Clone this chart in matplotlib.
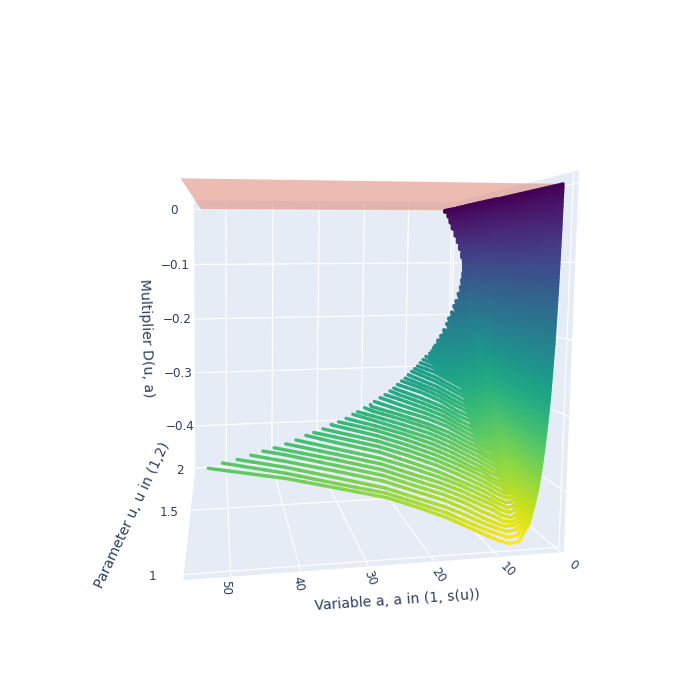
import numpy as np
import matplotlib
matplotlib.use('Agg')
import matplotlib.pyplot as plt
from mpl_toolkits.mplot3d.art3d import Line3DCollection, Poly3DCollection

# a values shared by the curves, each curve stops at its own end point
a_grid = [1, 1.1, 1.25, 1.5, 1.9, 2.5, 3.3, 4.5, 6, 9, 14, 22, 34]
# extra readings on the first curves, which show up most
extra_a = [2.2, 2.9, 3.9, 5.2, 7.5, 11]
far_a = [17.5, 27, 42]

line_u = [1, 1.0125, 1.025, 1.0375, 1.05, 1.0625, 1.075, 1.0875, 1.1, 1.1125,
          1.125, 1.1375, 1.15, 1.1625, 1.175, 1.1875, 1.2, 1.2125, 1.225, 1.2375,
          1.25, 1.2625, 1.275, 1.2875, 1.3, 1.3125, 1.325, 1.3375, 1.35, 1.3625,
          1.375, 1.3875, 1.4, 1.4125, 1.425, 1.4375, 1.45, 1.475, 1.5, 1.525,
          1.55, 1.575, 1.6, 1.625, 1.645, 1.665, 1.685, 1.705, 1.725, 1.745,
          1.765, 1.79, 1.82, 1.85, 1.88, 1.92, 1.95, 1.98, 2]

end_a = [53.1, 51.1, 49, 47, 45.2, 43.5, 41.7, 40.1, 38.5, 37.2,
         35.7, 34.3, 33, 31.7, 30.5, 29.6, 28.3, 27.2, 26.4, 25.3,
         24.3, 23.3, 22.5, 21.7, 20.8, 20, 19.3, 18.5, 17.8, 17.1,
         16.4, 15.7, 15, 14.1, 13.5, 13, 12.5, 11.5, 10.5, 9.5,
         8.5, 7.7, 6.7, 5.8, 5, 4.2, 3.4, 2.8, 2.2, 1.7,
         1.4, 1.3, 1.25, 1.22, 1.2, 1.16, 1.13, 1.1, 1.6]

end_d = [-.348, -.344, -.342, -.339, -.336, -.334, -.331, -.328, -.324, -.322,
         -.319, -.315, -.313, -.31, -.306, -.304, -.3, -.297, -.294, -.29,
         -.287, -.283, -.28, -.276, -.272, -.269, -.265, -.261, -.258, -.255,
         -.251, -.247, -.243, -.239, -.236, -.232, -.229, -.223, -.217, -.209,
         -.2, -.192, -.183, -.173, -.165, -.153, -.142, -.13, -.118, -.105,
         -.095, -.085, -.075, -.062, -.05, -.036, -.024, -.012, -.002]

# depth below zero in thousandths, at a_grid[1:], one row per curve
depth_rows = [
    [63, 131, 206, 278, 344, 400, 445, 468, 466, 445, 414, 383],
    [63, 132, 207, 279, 345, 400, 443, 462, 459, 440, 410, 379],
    [64, 133, 208, 280, 346, 400, 441, 457, 453, 433, 405, 373],
    [64, 134, 210, 281, 346, 401, 439, 453, 448, 426, 398, 366],
    [65, 135, 211, 282, 347, 401, 437, 450, 441, 419, 392, 360],
    [65, 136, 212, 283, 348, 401, 435, 446, 434, 413, 386, 354],
    [66, 137, 213, 284, 349, 401, 432, 441, 428, 407, 380, 348],
    [66, 138, 214, 285, 350, 400, 430, 436, 423, 401, 373, 342],
    [67, 140, 216, 286, 351, 400, 427, 431, 417, 396, 367, 335],
    [67, 141, 217, 287, 353, 399, 425, 425, 411, 389, 360, 329],
    [68, 142, 218, 288, 354, 399, 422, 420, 405, 383, 354, 323],
    [70, 143, 219, 290, 355, 398, 418, 414, 399, 377, 348, 316],
    [71, 145, 221, 292, 356, 397, 413, 409, 393, 371, 342],
    [73, 146, 222, 293, 358, 396, 409, 403, 388, 365, 336],
    [74, 148, 224, 295, 359, 395, 404, 398, 382, 359, 331],
    [76, 149, 225, 297, 360, 394, 400, 392, 376, 353, 325],
    [77, 151, 227, 299, 360, 391, 395, 386, 370, 347, 319],
    [77, 153, 229, 301, 360, 388, 389, 381, 364, 341, 314],
    [78, 156, 231, 304, 361, 386, 384, 375, 358, 334, 308],
    [79, 158, 232, 306, 361, 383, 378, 370, 352, 328, 301],
    [80, 160, 234, 308, 361, 380, 373, 364, 346, 322, 294],
    [82, 162, 236, 310, 360, 375, 368, 358, 340, 316, 288],
    [84, 164, 239, 313, 359, 370, 362, 352, 333, 310, 282],
    [85, 167, 241, 315, 358, 364, 356, 346, 327, 303],
    [87, 169, 244, 318, 356, 359, 351, 340, 321, 297],
    [89, 171, 246, 320, 355, 353, 345, 334, 315, 291],
    [90, 172, 247, 319, 350, 347, 339, 328, 309, 285],
    [90, 173, 248, 318, 345, 341, 333, 321, 302, 278],
    [91, 173, 249, 317, 340, 335, 327, 315, 296, 272],
    [91, 174, 250, 315, 334, 329, 320, 308, 289, 265],
    [92, 175, 251, 314, 329, 323, 314, 302, 283, 259],
    [94, 177, 253, 312, 324, 317, 309, 296, 277, 253],
    [96, 178, 254, 310, 319, 312, 304, 290, 271, 248],
    [97, 180, 256, 308, 314, 306, 298, 284, 264, 242],
    [99, 181, 257, 305, 308, 300, 291, 278, 258],
    [101, 183, 259, 303, 302, 294, 284, 272, 252],
    [102, 185, 260, 299, 297, 289, 279, 267, 247],
    [105, 188, 261, 291, 287, 279, 268, 256, 236],
    [108, 191, 262, 284, 279, 271, 259, 246, 226],
    [109, 191, 258, 274, 268, 259, 247, 233, 212],
    [110, 190, 254, 263, 256, 246, 234, 219],
    [111, 190, 248, 253, 245, 234, 221, 205],
    [110, 188, 241, 242, 233, 221, 205, 189],
    [110, 186, 234, 231, 221, 208, 190],
    [108, 180, 222, 221, 211, 198, 177],
    [104, 172, 208, 207, 197, 172],
    [100, 163, 195, 192, 168],
    [95, 152, 180, 168, 142],
    [90, 142, 165, 140],
    [83, 128, 122],
    [75, 105],
    [65, 90],
    [56],
    [45],
    [36],
    [26],
    [18],
    [],
    [1, 1, 1],
]

# depth at extra_a, for the first rows only
extra_rows = [
    [314, 375, 424, 455, 470, 458],
    [315, 375, 423, 452, 464, 452],
    [316, 376, 423, 450, 458, 446],
    [316, 376, 422, 448, 453, 440],
    [317, 377, 422, 446, 448, 433],
    [318, 377, 421, 443, 442, 426],
    [319, 377, 420, 439, 436, 420],
    [320, 378, 418, 435, 430, 414],
    [321, 378, 417, 431, 425, 408],
    [322, 379, 415, 427, 419, 402],
    [323, 379, 414, 423, 413, 396],
    [325, 379, 411, 418, 407, 390],
    [326, 379, 408, 413, 402, 385],
    [328, 380, 405, 408, 396, 379],
    [329, 380, 402, 402, 390, 373],
    [331, 380, 399, 397, 384, 367],
    [332, 378, 395, 391, 378, 361],
    [334, 377, 391, 386, 373, 355],
    [335, 376, 387, 380, 367, 349],
    [337, 374, 382, 375, 361, 343],
    [338, 373, 378, 369, 355, 337],
    [339, 370, 372, 363, 349, 331],
    [340, 367, 366, 357, 343, 325],
    [340, 364, 360, 351, 337, 319],
    [341, 360, 354, 345, 331, 312],
    [342, 356, 349, 340, 325, 306],
]

# depth at far_a, as far along as each curve goes
far_rows = [
    [430, 398, 366], [425, 394, 361], [419, 389, 355], [412, 382, 349],
    [406, 376, 342], [400, 370, 337], [394, 364], [388, 358], [382, 351],
    [375, 345], [369, 339], [363, 333], [357, 327], [351, 322], [345, 316],
    [339, 311], [333, 305], [328, 300], [321], [315], [309], [303], [297],
    [289], [283], [278],
]

plane_a = [56.6, 55.2, 1, 1.3]
plane_u = [0.975, 2, 2, 1]
plane_d = [0, 0, 0, 0]

a_ticks = [0, 10, 20, 30, 40, 50]
u_ticks = [1, 1.5, 2]
d_ticks = [0, -0.1, -0.2, -0.3, -0.4]

a_lim = (-0.6, 56.5)
u_lim = (0.97, 2.0)
d_lim = (-0.48, 0.015)

ink = '#2a3f5f'
fig = plt.figure(figsize=(7, 7), dpi=100)
ax = fig.add_axes([0, 0, 1, 1], projection='3d', computed_zorder=False)
ax.set_xlim(*a_lim)
ax.set_ylim(*u_lim)
ax.set_zlim(*d_lim)

# camera: box corners as they sit on the canvas, in pixels from the top left
corners = [
    (a_lim[1], u_lim[0], d_lim[0], 182, 577), (a_lim[0], u_lim[0], d_lim[0], 565, 554),
    (a_lim[0], u_lim[0], d_lim[1], 578, 171), (a_lim[1], u_lim[0], d_lim[1], 183, 164),
    (a_lim[1], u_lim[1], d_lim[0], 198, 470), (a_lim[1], u_lim[1], d_lim[1], 193, 201),
    (a_lim[0], u_lim[1], d_lim[0], 447, 453), (a_lim[0], u_lim[1], d_lim[1], 456, 203),
]
rows, rhs = [], []
for xa, yu, zd, px, py in corners:
    rows.append([xa, yu, zd, 1, 0, 0, 0, 0, -px * xa, -px * yu, -px * zd])
    rhs.append(px)
    rows.append([0, 0, 0, 0, xa, yu, zd, 1, -py * xa, -py * yu, -py * zd])
    rhs.append(py)
p = np.linalg.lstsq(np.array(rows), np.array(rhs, float), rcond=None)[0]
P = np.append(p, 1).reshape(3, 4)

to2d = ax.transData.inverted().get_matrix()
col = P[0]
row = 700 * P[2] - P[1]
w_mean = np.mean([P[2] @ np.array([c[0], c[1], c[2], 1]) for c in corners])
M = np.vstack([
    to2d[0, 0] * col + to2d[0, 1] * row + to2d[0, 2] * P[2],
    to2d[1, 0] * col + to2d[1, 1] * row + to2d[1, 2] * P[2],
    P[2] - np.array([0, 0, 0, w_mean]),
    P[2],
])
ax.get_proj = lambda: M

ax.set_xticks(a_ticks)
ax.set_yticks(u_ticks)
ax.set_zticks(d_ticks)
ax.set_xticklabels([])
ax.set_yticklabels([])
ax.set_zticklabels([])
for axis in (ax.xaxis, ax.yaxis, ax.zaxis):
    axis.set_pane_color('#E5ECF6')
    axis.pane.set_edgecolor('#E5ECF6')
    axis.line.set_color('none')
    axis._axinfo['grid'].update(color='white', linewidth=0.85)
    axis._axinfo['tick'].update(inward_factor=0, outward_factor=0)
ax.tick_params(axis='both', color='none')

ax.add_collection3d(Poly3DCollection(
    [list(zip(plane_a, plane_u, plane_d))],
    facecolors=(0.878, 0.565, 0.498, 0.6), edgecolors='none'), autolim=False)

cmap = plt.get_cmap('viridis')
d_min = -0.47


def curve(i, with_extra=True):
    xs = a_grid[:len(depth_rows[i]) + 1]
    zs = [0] + [-v / 1000 for v in depth_rows[i]]
    if with_extra and i < len(extra_rows):
        pairs = list(zip(xs, zs))
        pairs += [(x, -v / 1000) for x, v in zip(extra_a, extra_rows[i])]
        pairs += [(x, -v / 1000) for x, v in zip(far_a, far_rows[i])]
        pairs.sort()
        xs = [q[0] for q in pairs]
        zs = [q[1] for q in pairs]
    return xs + [end_a[i]], zs + [end_d[i]]


# surface between neighbouring curves where they run solid in the reference
quads, quad_cols = [], []
for i in range(len(line_u) - 1):
    xs0, zs0 = curve(i, False)
    xs1, zs1 = curve(i + 1, False)
    if i < 10:
        last = 7
    elif i < 20:
        last = 8
    elif i < 29:
        last = 9
    elif i < 35:
        last = 10
    else:
        last = 99
    for j in range(min(len(xs0), len(xs1), last + 1) - 1):
        quads.append([(xs0[j], line_u[i], zs0[j]), (xs0[j + 1], line_u[i], zs0[j + 1]),
                      (xs1[j + 1], line_u[i + 1], zs1[j + 1]), (xs1[j], line_u[i + 1], zs1[j])])
        quad_cols.append(cmap(min(0.25 * (zs0[j] + zs0[j + 1] + zs1[j] + zs1[j + 1]) / d_min, 1)))
ax.add_collection3d(Poly3DCollection(quads, facecolors=quad_cols, edgecolors=quad_cols,
                                     linewidths=0.4), autolim=False)

segs, cols, widths = [], [], []
# far curves first, near ones on top
for i in range(len(line_u) - 1, -1, -1):
    xs, zs = curve(i)
    for j in range(len(xs) - 1):
        # straight piece cut up only so its colour can run along it
        n = int(abs(zs[j + 1] - zs[j]) / 0.006) + 2
        sx = np.linspace(xs[j], xs[j + 1], n)
        sz = np.linspace(zs[j], zs[j + 1], n)
        for m in range(n - 1):
            segs.append([(sx[m], line_u[i], sz[m]), (sx[m + 1], line_u[i], sz[m + 1])])
            cols.append(cmap(min(0.5 * (sz[m] + sz[m + 1]) / d_min, 1)))
            widths.append(2.45 if i < 37 else 3.3)
ax.add_collection3d(Line3DCollection(segs, colors=cols, linewidths=widths,
                                     capstyle='round'), autolim=False)


def label(px, py, s, size=8.64, rot=0):
    fig.text(px / 700, 1 - py / 700, s, color=ink, fontsize=size, rotation=rot,
             ha='center', va='center', rotation_mode='anchor')


for x, y, s in [(174, 210, '0'), (175.5, 265.5, '\u22120.1'), (177, 320, '\u22120.2'),
                (178, 373.5, '\u22120.3'), (180, 427, '\u22120.4')]:
    label(x, y, s)
for x, y, s in [(152, 577, '1'), (169, 513, '1.5'), (180, 471, '2')]:
    label(x, y, s)
for x, y, s, r in [(226, 588, '50', -90), (298, 584, '40', -80), (370, 578, '30', -70),
                   (438, 575, '20', -55), (507, 570, '10', -45), (573, 565, '0', -35)]:
    label(x, y, s, rot=r)
label(397, 600, 'Variable a, a in (1, s(u))', size=10.08, rot=3.9)
label(132, 515, 'Parameter u, u in (1,2)', size=10.08, rot=65)
label(146, 338, 'Multiplier D(u, a)', size=10.08, rot=-88)

fig.savefig('out.png', dpi=100)
